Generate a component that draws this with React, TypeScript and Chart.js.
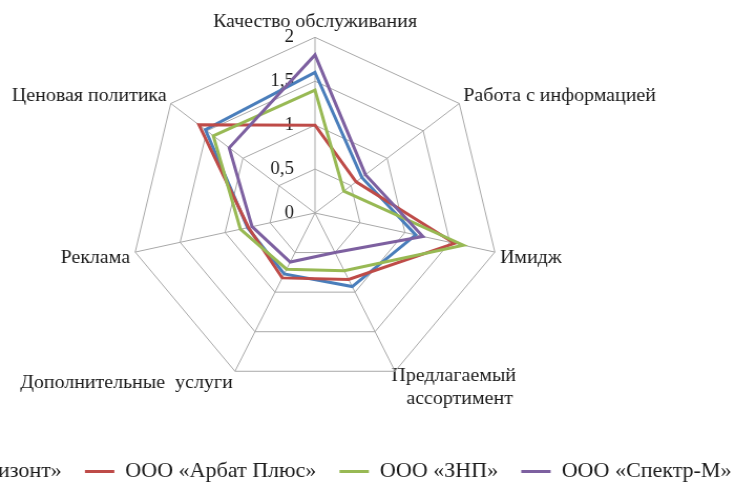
import React, { useEffect, useRef } from 'react';
import { Chart, registerables, layouts } from 'chart.js';

Chart.register(...registerables);

// ---- data ----
const categories: (string | string[])[] = [
  'Качество обслуживания',
  'Работа с информацией',
  'Имидж',
  ['Предлагаемый', '   ассортимент'],
  'Дополнительные  услуги',
  'Реклама',
  'Ценовая политика',
];
const seriesNames = ['ООО «Горизонт»', 'ООО «Арбат Плюс»', 'ООО «ЗНП»', 'ООО «Спектр-М»'];
const gorizont = [1.6, 0.65, 1.12, 0.93, 0.77, 0.75, 1.52];
const arbatPlus = [1.0, 0.57, 1.55, 0.84, 0.82, 0.74, 1.61];
const znp = [1.4, 0.4, 1.65, 0.73, 0.71, 0.83, 1.41];
const spektrM = [1.8, 0.7, 1.2, 0.5, 0.62, 0.7, 1.19];
const scaleMin = 0;
const scaleMax = 2;
const scaleStep = 0.5;

// ---- styles ----
const seriesColors = ['#4A7EBB', '#BE4B48', '#98B954', '#7D60A0'];
const FONT = '"Liberation Serif", "Times New Roman", serif';
const TEXT = '#1a1a1a';
const GRID = '#a8a8a8';
const CANVAS_W = 910;
const CANVAS_H = 500;
const CENTER_X = 315;

const tickLabelPlugin = {
  id: 'tickLabelsLeft',
  beforeDatasetsDraw(chart: any) {
    const s = chart.scales.r;
    const ctx = chart.ctx;
    ctx.save();
    ctx.font = `18px ${FONT}`;
    ctx.fillStyle = TEXT;
    ctx.textAlign = 'right';
    ctx.textBaseline = 'middle';
    s.ticks.forEach((t: any) => {
      const d = s.getDistanceFromCenterForValue(t.value);
      ctx.fillText(String(t.value).replace('.', ','), s.xCenter - 20, s.yCenter - d);
    });
    ctx.restore();
  },
};

function makeSpacer(h: number) {
  return {
    position: 'bottom',
    weight: 100,
    fullSize: true,
    options: {},
    top: 0, left: 0, right: 0, bottom: 0, width: 0, height: 0,
    isHorizontal() { return true; },
    update(maxWidth: number) { this.width = maxWidth; this.height = h; },
    draw() {},
  };
}

const spacerPlugin = {
  id: 'legendSpacer',
  beforeInit(chart: any) {
    layouts.addBox(chart, makeSpacer(26) as any);
  },
};

export default function App() {
  const ref = useRef<HTMLCanvasElement>(null);
  useEffect(() => {
    const series = [gorizont, arbatPlus, znp, spektrM];
    const labelLineHeights = [1.07, 0.5, 0.5, 1.21, 0.72, 0.5, 0.5];
    const labelPadding = [5, 5, 5, -8, 5, 5, 5];
    const chart = new Chart(ref.current as HTMLCanvasElement, {
      type: 'radar',
      data: {
        labels: categories as any,
        datasets: series.map((d, i) => ({
          label: seriesNames[i],
          data: d,
          borderColor: seriesColors[i],
          backgroundColor: seriesColors[i],
          borderWidth: 3,
          pointRadius: 0,
          pointHoverRadius: 0,
          fill: false,
          order: series.length - i,
        })),
      },
      options: {
        responsive: false,
        animation: false,
        layout: { padding: { top: 10, bottom: 8, left: 0, right: 0 } },
        plugins: {
          tooltip: { enabled: false },
          legend: {
            position: 'bottom',
            align: 'start',
            labels: {
              usePointStyle: true,
              pointStyle: 'line',
              pointStyleWidth: 28,
              padding: 22,
              color: TEXT,
              font: { family: FONT, size: 21 },
              sort: (a: any, b: any) => a.datasetIndex - b.datasetIndex,
            },
          },
        },
        scales: {
          r: {
            min: scaleMin,
            max: scaleMax,
            ticks: { stepSize: scaleStep, display: false },
            grid: { color: GRID, lineWidth: 1, circular: false },
            angleLines: { color: GRID, lineWidth: 1 },
            pointLabels: {
              color: TEXT,
              padding: (ctx: any) => labelPadding[ctx.index],
              font: (ctx: any) => ({ family: FONT, size: 19, lineHeight: labelLineHeights[ctx.index] }),
            },
          },
        },
      },
      plugins: [tickLabelPlugin, spacerPlugin],
    } as any);
    return () => chart.destroy();
  }, []);

  return (
    <div style={{ position: 'fixed', left: 0, top: 0, width: 732, height: 486, overflow: 'hidden', background: '#fff' }}>
      <div
        style={{
          position: 'absolute',
          left: CENTER_X - CANVAS_W / 2,
          top: 0,
          width: CANVAS_W,
          height: CANVAS_H,
          transform: 'scaleX(1.05)',
          transformOrigin: `${CANVAS_W / 2}px 0px`,
        }}
      >
        <canvas ref={ref} width={CANVAS_W} height={CANVAS_H} />
      </div>
    </div>
  );
}
